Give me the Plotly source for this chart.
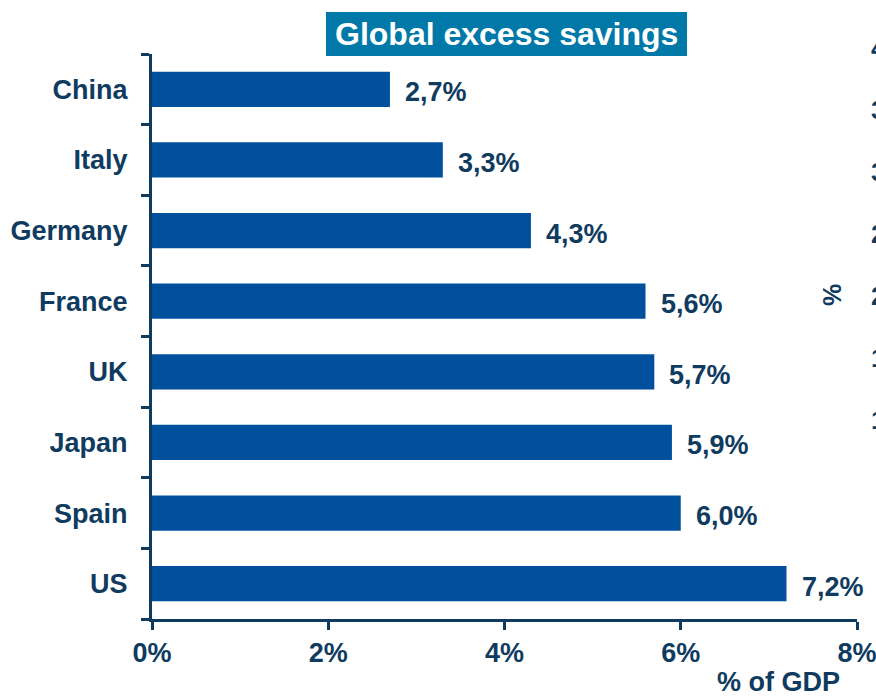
import plotly.graph_objects as go

countries = ["China", "Italy", "Germany", "France", "UK", "Japan", "Spain", "US"]
savings = [0.027, 0.033, 0.043, 0.056, 0.057, 0.059, 0.060, 0.072]
value_labels = ["2,7%", "3,3%", "4,3%", "5,6%", "5,7%", "5,9%", "6,0%", "7,2%"]
x_ticks = [0, 0.02, 0.04, 0.06, 0.08]
x_tick_labels = ["0%", "2%", "4%", "6%", "8%"]
# y-axis labels of the neighbouring chart that is cut off at the right edge
side_ticks = ["40", "35", "30", "25", "20", "15", "10"]

NAVY = "#0f3b5f"
BAR = "#00509d"
FONT = "Liberation Sans, Arial, sans-serif"

fig = go.Figure(go.Bar(
    x=savings,
    y=countries,
    orientation="h",
    width=0.5,
    marker=dict(color=BAR, line=dict(width=0)),
    hoverinfo="skip",
))

for c, v, lab in zip(countries, savings, value_labels):
    fig.add_annotation(
        x=v, y=c, text=f"<b>{lab}</b>", showarrow=False,
        xanchor="left", yanchor="middle", xshift=13, yshift=-3,
        font=dict(family=FONT, size=27, color=NAVY),
    )

# title box
fig.add_shape(
    type="rect", xref="paper", yref="paper",
    x0=0.2468, x1=0.7589, y0=0.9965, y1=1.0743,
    fillcolor="#0079a8", line=dict(width=0), layer="above",
)
fig.add_annotation(
    xref="paper", yref="paper", x=0.5028, y=1.0354,
    text="<b>Global excess savings</b>", showarrow=False,
    xanchor="center", yanchor="middle",
    font=dict(family=FONT, size=32, color="white"),
)

fig.add_annotation(
    xref="paper", yref="paper", x=0.9787, y=-0.112,
    text="<b>% of GDP</b>", showarrow=False,
    xanchor="right", yanchor="middle",
    font=dict(family=FONT, size=27, color=NAVY),
)

# fragments of the chart next door
fig.add_annotation(
    xref="paper", yref="paper", x=0.9645, y=0.5735,
    text="<b>%</b>", showarrow=False, textangle=-90,
    xanchor="center", yanchor="middle",
    font=dict(family=FONT, size=25, color=NAVY),
)
for i, t in enumerate(side_ticks):
    py = 48 + 62 * i
    fig.add_annotation(
        xref="paper", yref="paper", x=(869 - 152) / 705, y=(619 - py) / 565,
        text=f"<b>{t}</b>", showarrow=False,
        xanchor="left", yanchor="middle",
        font=dict(family=FONT, size=26, color=NAVY),
    )

fig.update_layout(
    width=876, height=696,
    margin=dict(l=152, r=19, t=54, b=77),
    paper_bgcolor="white", plot_bgcolor="white",
    showlegend=False,
    font=dict(family=FONT, color=NAVY),
    xaxis=dict(
        range=[0, 0.08], tickvals=x_ticks, ticktext=[f"<b>{t}</b>" for t in x_tick_labels],
        showgrid=False, zeroline=False, automargin=False,
        showline=True, linecolor=NAVY, linewidth=3,
        ticks="outside", ticklen=8, tickwidth=3, tickcolor=NAVY,
        tickfont=dict(family=FONT, size=27, color=NAVY),
        ticklabeloverflow="allow",
    ),
    yaxis=dict(
        type="category", categoryorder="array", categoryarray=countries,
        range=[7.5, -0.5], automargin=False,
        tickvals=countries, ticktext=[f"<b>{c}</b>" for c in countries],
        showgrid=False, zeroline=False,
        showline=True, linecolor=NAVY, linewidth=3,
        ticks="outside", tickson="boundaries", ticklen=8, tickwidth=3, tickcolor=NAVY,
        tickfont=dict(family=FONT, size=27, color=NAVY),
        ticklabelstandoff=16,
    ),
)

# drop the browser's default body margin so the figure sits at the page corner
fig.write_html(
    "out.html",
    config={"displayModeBar": False},
    post_script="document.body.style.margin = '0';",
)
